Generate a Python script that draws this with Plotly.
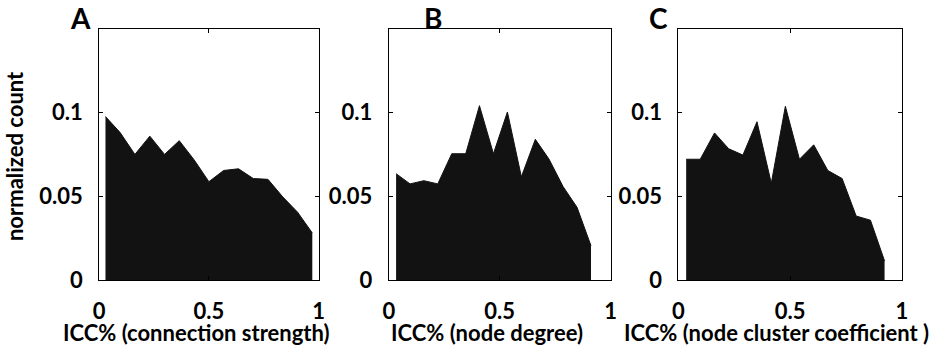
import plotly.graph_objects as go

# ---- data ----
icc_a = [0.029, 0.096, 0.163, 0.231, 0.298, 0.365, 0.433, 0.500, 0.567, 0.635, 0.702, 0.769, 0.836, 0.904, 0.971]
cnt_a = [0.0977, 0.0881, 0.0751, 0.0860, 0.0751, 0.0833, 0.0718, 0.0588, 0.0655, 0.0665, 0.0607, 0.0602, 0.0498, 0.0406, 0.0282]

icc_b = [0.033, 0.096, 0.158, 0.221, 0.284, 0.347, 0.409, 0.472, 0.535, 0.598, 0.661, 0.723, 0.786, 0.849, 0.912]
cnt_b = [0.0636, 0.0575, 0.0594, 0.0575, 0.0755, 0.0755, 0.1042, 0.0755, 0.1004, 0.0617, 0.0841, 0.0722, 0.0559, 0.0435, 0.0205]

icc_c = [0.035, 0.098, 0.162, 0.225, 0.289, 0.352, 0.416, 0.479, 0.542, 0.606, 0.669, 0.733, 0.796, 0.860, 0.923]
cnt_c = [0.0722, 0.0722, 0.0879, 0.0785, 0.0747, 0.0946, 0.0579, 0.1038, 0.0722, 0.0808, 0.0655, 0.0607, 0.0383, 0.0358, 0.0115]

panel_letters = ["A", "B", "C"]
x_titles = ["ICC% (connection strength)", "ICC% (node degree)", "ICC% (node cluster coefficient )"]
y_title = "normalized count"
x_ticks = [0, 0.5, 1]
x_ticklabels = ["0", "0.5", "1"]
y_ticks = [0, 0.05, 0.1]
y_ticklabels = ["0", "0.05", "0.1"]

W, H = 944, 360
FONT = "Lato"
FILL = "#121212"
FS = 22

# pixel geometry of the three boxes
boxes_px = [(94.3, 316.7), (387.7, 612.3), (681.0, 907.3)]
top_px, bot_px = 30.0, 290.7
letter_px = [75, 433, 661]
xtitle_px = [193.0, 487.5, 780.0]

fig = go.Figure()
series = [(icc_a, cnt_a), (icc_b, cnt_b), (icc_c, cnt_c)]
for i, (xs, ys) in enumerate(series):
    ax = "" if i == 0 else str(i + 1)
    fig.add_trace(go.Scatter(
        x=xs, y=ys, mode="lines", fill="tozeroy",
        line=dict(color=FILL, width=1), fillcolor=FILL,
        xaxis="x" + ax, yaxis="y" + ax, showlegend=False, hoverinfo="skip",
    ))

layout = dict(
    width=W, height=H, margin=dict(l=0, r=0, t=0, b=0),
    paper_bgcolor="white", plot_bgcolor="white",
    font=dict(family=FONT, size=FS, color="black", weight="bold"),
    showlegend=False,
)
axis_common = dict(
    showline=True, linecolor="black", linewidth=1, mirror="ticks",
    ticks="inside", ticklen=4, tickcolor="black", tickwidth=1,
    showgrid=False, zeroline=False, fixedrange=True,
    tickfont=dict(family=FONT, size=FS, color="black", weight="bold"),
)
ydom = [1 - bot_px / H, 1 - top_px / H]
for i, (l, r) in enumerate(boxes_px):
    ax = "" if i == 0 else str(i + 1)
    layout["xaxis" + ax] = dict(
        axis_common, domain=[l / W, r / W], range=[0, 1],
        tickvals=x_ticks, ticktext=x_ticklabels, anchor="y" + ax,
        ticklabelstandoff=11,
    )
    layout["yaxis" + ax] = dict(
        axis_common, domain=ydom, range=[0, 0.15],
        tickvals=y_ticks, ticktext=y_ticklabels, anchor="x" + ax,
        ticklabelstandoff=11,
    )
fig.update_layout(**layout)

ann = []
for i in range(3):
    ann.append(dict(text=panel_letters[i], x=letter_px[i] / W, y=1 - 19 / H,
                    xref="paper", yref="paper", xanchor="center", yanchor="middle",
                    showarrow=False, font=dict(family=FONT, size=28, color="black", weight="bold")))
    ann.append(dict(text=x_titles[i], x=xtitle_px[i] / W, y=1 - 345 / H,
                    xref="paper", yref="paper", xanchor="center", yanchor="middle",
                    showarrow=False, font=dict(family=FONT, size=FS, color="black", weight="bold")))
ann.append(dict(text=y_title, x=8 / W, y=1 - 162 / H, textangle=-90,
                xref="paper", yref="paper", xanchor="center", yanchor="middle",
                showarrow=False, font=dict(family=FONT, size=FS, color="black", weight="bold")))
fig.update_layout(annotations=ann)

fig.write_html("out.html")
